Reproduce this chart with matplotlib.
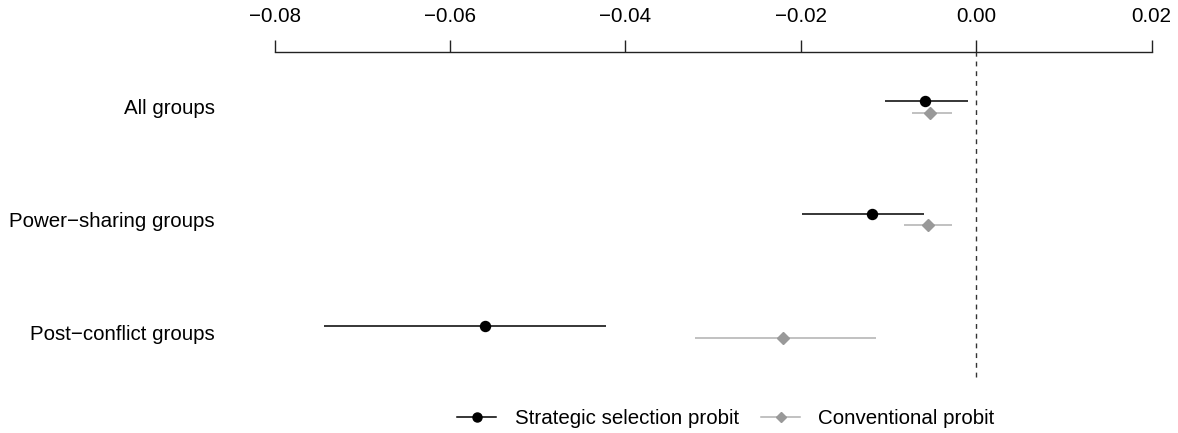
import matplotlib
matplotlib.use("Agg")
import matplotlib.pyplot as plt
import numpy as np
from matplotlib.lines import Line2D

plt.rcParams['font.family'] = ['Liberation Sans', 'DejaVu Sans']

groups = ["All groups", "Power\u2212sharing groups", "Post\u2212conflict groups"]
strategic_est = [-0.0058, -0.0119, -0.0560]
strategic_lo = [-0.0104, -0.0199, -0.0744]
strategic_hi = [-0.0009, -0.0059, -0.0422]
conv_est = [-0.0053, -0.0055, -0.0220]
conv_lo = [-0.0073, -0.0082, -0.0320]
conv_hi = [-0.0028, -0.0027, -0.0114]
xticks = [-0.08, -0.06, -0.04, -0.02, 0.00, 0.02]
xticklabels = ["\u22120.08", "\u22120.06", "\u22120.04", "\u22120.02", "0.00", "0.02"]

FS = 14.8
W, H = 1178, 433
fig = plt.figure(figsize=(W / 100, H / 100), dpi=100)
left_px, right_px = 274.5, 1151.5
top_px, bot_px = 52, 390
ax = fig.add_axes([left_px / W, 1 - bot_px / H, (right_px - left_px) / W, (bot_px - top_px) / H])

pos = np.array([3, 2, 1])
off = 0.053
ax.hlines(pos + off, strategic_lo, strategic_hi, color='black', lw=1.1)
ax.plot(strategic_est, pos + off, 'o', color='black', ms=7.2, ls='none')
ax.hlines(pos - off, conv_lo, conv_hi, color='#b0b0b0', lw=1.1)
ax.plot(conv_est, pos - off, 'D', color='#999999', ms=6, ls='none')

ax.axvline(0, color='#333333', lw=1.0, ls=(0, (3.5, 3.5)),
           ymin=(bot_px - 377) / (bot_px - top_px), ymax=1)

ax.set_xlim(-0.08, 0.02)
ax.set_ylim(1 - (bot_px - 332) / 112.5, 3 + (107 - top_px) / 112.5)

for s in ['bottom', 'left', 'right']:
    ax.spines[s].set_visible(False)
ax.spines['top'].set_linewidth(1.0)
ax.spines['top'].set_color('#222222')
ax.xaxis.tick_top()
ax.set_xticks(xticks)
ax.set_xticklabels(xticklabels)
ax.tick_params(axis='x', length=8.6, width=1.0, colors='#222222', labelcolor='black', labelsize=FS, pad=10)
ax.set_yticks(pos)
ax.set_yticklabels(groups)
ax.tick_params(axis='y', length=0, labelsize=FS, pad=43)

h1 = Line2D([], [], color='black', lw=1.1, marker='o', ms=6.5)
h2 = Line2D([], [], color='#b0b0b0', lw=1.1, marker='D', ms=5.5, mfc='#999999', mec='#999999')
fig.legend([h1, h2], ["Strategic selection probit", "Conventional probit"], loc='center',
           bbox_to_anchor=(726 / W, 1 - 419 / H), ncol=2, frameon=False, fontsize=FS,
           handlelength=1.9, handletextpad=0.88, columnspacing=1.1)

fig.savefig("out.png", dpi=100)
